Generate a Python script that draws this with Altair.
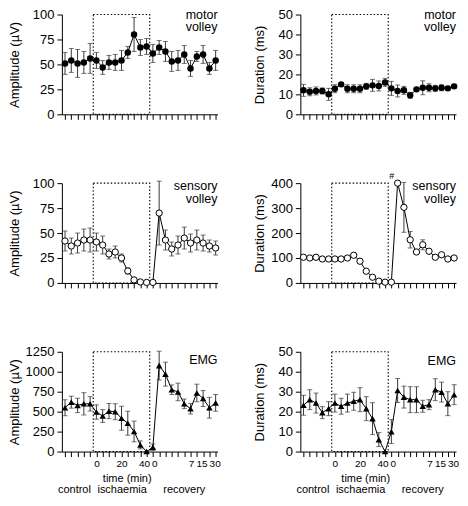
import altair as alt
import pandas as pd

FONT = "Liberation Sans"

# x positions: 5 control, 9 ischaemia (0..40 min), 11 recovery
idx = list(range(25))
isch_start, isch_end = 4.5, 13.5
tick_label_idx = [5, 9, 13, 14, 20, 22, 24]
tick_label_txt = ["0", "20", "40", "0", "7", "15", "30"]
tick_label_shift = [0, 0, -2.5, 1.5, 0.5, -1.5, -1]
phase_names = ["control", "ischaemia", "recovery"]
phase_pos = [1.5, 9.1, 19.0]

motor_amp = [51, 54, 51, 52, 56, 54, 47, 52, 52, 54, 62, 80, 67, 68, 61, 67, 63, 53, 54, 60, 46, 58, 60, 46, 54]
motor_amp_err = [11, 12, 14, 11, 15, 8, 7, 7, 8, 10, 6, 17, 8, 8, 9, 7, 10, 10, 10, 9, 8, 5, 9, 6, 10]

motor_dur = [12, 11.3, 11.7, 11.7, 10, 12.8, 15, 12.8, 12.8, 12.8, 14, 14.5, 14.2, 16, 13, 11.7, 12, 9.5, 12.5, 13.3, 13.3, 13, 13.3, 13, 14]
motor_dur_err = [3, 2, 2, 1.5, 3, 2, 0.8, 2, 2, 2, 1.5, 3, 2.5, 2, 3.5, 3, 2, 1.5, 1, 3.5, 2, 1.5, 1.5, 1, 1]

sens_amp = [42, 37, 40, 43, 43, 41, 38, 29, 31, 25, 12, 3, 1, 0.5, 0.5, 70, 43, 34, 38, 45, 40, 43, 40, 37, 35]
sens_amp_err = [10, 8, 10, 11, 12, 9, 9, 5, 6, 4, 3, 0, 0, 0, 0, 32, 10, 7, 9, 11, 9, 10, 8, 6, 7]

sens_dur = [103, 100, 103, 96, 96, 96, 96, 100, 111, 87, 47, 23, 7, 3, 3, 400, 303, 173, 124, 153, 127, 103, 113, 96, 100]
sens_dur_err = [4, 4, 4, 4, 4, 4, 4, 4, 4, 4, 4, 4, 0, 0, 0, 0, 100, 33, 5, 20, 5, 4, 4, 4, 4]

emg_amp = [549, 619, 578, 598, 598, 495, 445, 507, 499, 417, 355, 252, 83, 0, 54, 1077, 970, 775, 747, 598, 536, 734, 664, 549, 610]
emg_amp_err = [100, 75, 90, 140, 90, 90, 80, 95, 100, 150, 150, 130, 50, 0, 40, 180, 150, 60, 110, 60, 65, 110, 100, 130, 105]

emg_dur = [23.2, 26, 24.3, 19.5, 21.5, 24.3, 22.7, 24.3, 25.2, 26, 21.5, 16.5, 6, 0, 10, 30.6, 27.3, 26, 26, 22.7, 23.5, 31, 29.8, 24, 28.5]
emg_dur_err = [5, 5, 5, 3, 3.5, 4.5, 4, 4.5, 4.5, 6, 6, 8, 3.5, 0, 6, 6, 5.5, 6.5, 6.5, 3, 2.5, 5.5, 5, 6, 5]

W, H = 156, 100


def label_expr():
    parts = [f"datum.value == {i} ? '{t}'" for i, t in zip(tick_label_idx, tick_label_txt)]
    return " : ".join(parts) + " : ''"


def label_offset():
    conds = [{"test": f"datum.value == {i}", "value": s}
             for i, s in zip(tick_label_idx, tick_label_shift) if s != 0]
    return {"condition": conds, "value": 0}


def panel(vals, errs, ymax, ystep, ytitle, title_x, lines, line_y, marker, bottom, hash_mark=False):
    df = pd.DataFrame({
        "i": idx,
        "v": vals,
        "lo": [v - e for v, e in zip(vals, errs)],
        "hi": [v + e for v, e in zip(vals, errs)],
    })
    xscale = alt.Scale(domain=[-0.5, 24.3], nice=False, zero=False)
    common = dict(values=idx, tickSize=5, tickColor="black", domainColor="black",
                  grid=False, labelFont=FONT, titleFont=FONT)
    if bottom:
        xaxis = alt.Axis(labelExpr=label_expr(), labelFontSize=10, labelColor="black",
                         labelPadding=2, labelOverlap=False, labelAngle=0,
                         labelOffset=label_offset(),
                         title="time (min)", titleFontSize=11, titleFontWeight="normal",
                         titleColor="black", titleX=65, titleY=27, titleBaseline="middle",
                         **common)
    else:
        xaxis = alt.Axis(labels=False, title=None, **common)
    yscale = alt.Scale(domain=[0, ymax], nice=False, zero=True)
    yaxis = alt.Axis(values=list(range(0, ymax + 1, ystep)), format="d", tickSize=5,
                     tickColor="black", domainColor="black", grid=False, labelFont=FONT,
                     labelFontSize=13, labelColor="black", labelPadding=3, title=ytitle,
                     titleFont=FONT, titleFontSize=13, titleFontWeight="normal",
                     titleColor="black", titleX=title_x, titleBaseline="middle")

    def X(f):
        return alt.X(f, type="quantitative", scale=xscale, axis=xaxis)

    def Y(f):
        return alt.Y(f, type="quantitative", scale=yscale, axis=yaxis)

    box_df = pd.DataFrame({"x0": [isch_start], "x1": [isch_end], "y0": [0], "y1": [ymax]})
    box = alt.Chart(box_df).mark_rect(fillOpacity=0, stroke="black", strokeWidth=1.1,
                                      strokeDash=[1.5, 2]).encode(
        x=X("x0"), x2="x1", y=Y("y0"), y2="y1")

    base = alt.Chart(df)
    ecol = "#3a3a3a"
    err = base.mark_rule(color=ecol, strokeWidth=1).encode(x=X("i"), y=Y("lo"), y2="hi")
    cap_lo = base.mark_tick(orient="horizontal", size=5, thickness=1, color=ecol).encode(x=X("i"), y=Y("lo"))
    cap_hi = base.mark_tick(orient="horizontal", size=5, thickness=1, color=ecol).encode(x=X("i"), y=Y("hi"))
    line = base.mark_line(color="black", strokeWidth=1).encode(x=X("i"), y=Y("v"))
    if marker == "filled":
        pts = base.mark_point(shape="circle", filled=True, color="black", size=42, opacity=1)
    elif marker == "open":
        pts = base.mark_point(shape="circle", filled=True, fill="white", stroke="black",
                              strokeWidth=1, size=40, opacity=1)
    else:
        pts = base.mark_point(shape="triangle-up", filled=True, color="black", size=42, opacity=1)
    pts = pts.encode(x=X("i"), y=Y("v"))

    layers = [box, err, cap_lo, cap_hi, line, pts]
    one = pd.DataFrame({"k": [0]})
    for t, yy in zip(lines, line_y):
        layers.append(alt.Chart(one).mark_text(text=t, align="right", baseline="middle",
                                               font=FONT, fontSize=12.5, color="black").encode(
            x=alt.value(W), y=alt.value(yy)))
    if hash_mark:
        hdf = df.iloc[[15]]
        layers.append(alt.Chart(hdf).mark_text(text="#", font=FONT, fontSize=9, dx=-6, dy=-7,
                                               color="black").encode(x=X("i"), y=Y("v")))
    if bottom:
        pdf = pd.DataFrame({"name": phase_names, "pos": phase_pos})
        layers.append(alt.Chart(pdf).mark_text(font=FONT, fontSize=11, baseline="middle",
                                               color="black").encode(
            x=X("pos"), y=alt.value(H + 39), text="name:N"))
    return alt.layer(*layers).properties(width=W, height=H)


TL, TR = -47, -41
p1 = panel(motor_amp, motor_amp_err, 100, 25, "Amplitude (µV)", TL, ["motor", "volley"], [0, 13], "filled", False)
p2 = panel(motor_dur, motor_dur_err, 50, 10, "Duration (ms)", TR, ["motor", "volley"], [0, 13], "filled", False)
p3 = panel(sens_amp, sens_amp_err, 100, 25, "Amplitude (µV)", TL, ["sensory", "volley"], [3.3, 16.3], "open", False)
p4 = panel(sens_dur, sens_dur_err, 400, 100, "Duration (ms)", TR, ["sensory", "volley"], [3.3, 16.3], "open", False, hash_mark=True)
p5 = panel(emg_amp, emg_amp_err, 1250, 250, "Amplitude (µV)", TL, ["EMG"], [8.5], "tri", True)
p6 = panel(emg_dur, emg_dur_err, 50, 10, "Duration (ms)", TR, ["EMG"], [9], "tri", True)

chart = alt.concat(p1, p2, p3, p4, p5, p6, columns=2,
                   spacing={"row": 69, "column": 83}, bounds="flush").properties(
    padding={"left": 0, "top": 0, "right": 0, "bottom": 0}
).configure_view(stroke=None)

chart.save("out.html", embed_options={"renderer": "svg", "actions": False})
